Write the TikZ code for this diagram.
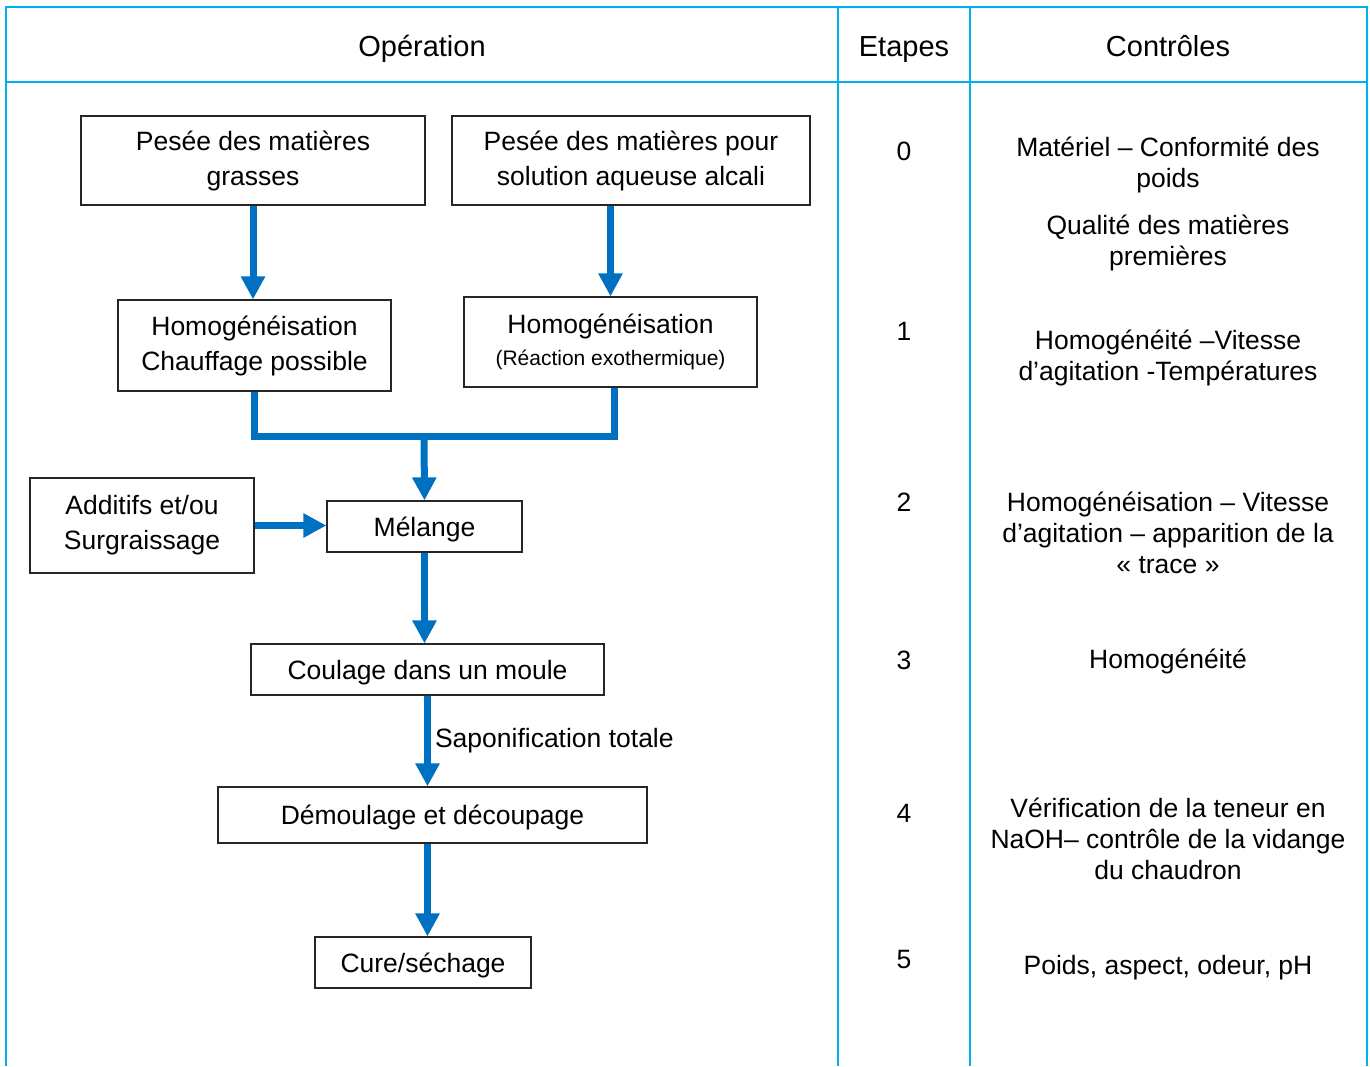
\documentclass[tikz,border=0pt]{standalone}
\usepackage{fontspec}
\setmainfont{Liberation Sans}
\usepackage{xcolor}
\usetikzlibrary{arrows.meta}

\definecolor{bleuFleche}{HTML}{0070C0}
\definecolor{bleuTableau}{HTML}{00B0F0}

\begin{document}
\begin{tikzpicture}[x=1pt, y=-1pt,
  boite/.style={draw=black!85, line width=1.2pt, inner sep=0pt, align=center,
    font=\fontsize{26.5}{35}\selectfont},
  ligne/.style={text height=19pt, text depth=0pt},
  tuyau/.style={draw=bleuFleche, line width=7pt},
  fleche/.style={tuyau, -{Triangle[length=23pt, width=23pt]}},
  texte/.style={align=center, inner sep=0pt, font=\fontsize{26.5}{31}\selectfont},
  titre/.style={inner sep=0pt, anchor=base, font=\fontsize{29}{34}\selectfont}]
  \useasboundingbox (0,0) rectangle (1370,1066);

  % Tableau : cadre, ligne d'en-tete et colonnes
  \draw[bleuTableau, line width=2.5pt] (6,1066) -- (6,7) -- (1367,7) -- (1367,1066);
  \draw[bleuTableau, line width=2.5pt] (6,82) -- (1367,82);
  \draw[bleuTableau, line width=2.5pt] (838,7) -- (838,1066);
  \draw[bleuTableau, line width=2.5pt] (970,7) -- (970,1066);

  \node[titre] (tOp) at (422,56.5) {Opération};
  \node[titre] (tEt) at (904,56.5) {Etapes};
  \node[titre] (tCo) at (1168,56.5) {Contrôles};

  % Diagramme de fabrication
  \node[boite, minimum width=344pt, minimum height=89pt] (pg) at (253,160.5)
    {Pesée des matières\\grasses};
  \node[boite, minimum width=358pt, minimum height=89pt] (pa) at (631,160.5)
    {Pesée des matières pour\\solution aqueuse alcali};
  \node[boite, minimum width=273pt, minimum height=91pt] (hg) at (254.5,345.5)
    {Homogénéisation\\Chauffage possible};
  \node[boite, minimum width=293pt, minimum height=90pt] (ha) at (610.5,342)
    {Homogénéisation\\[-3pt]{\fontsize{21}{25}\selectfont(Réaction exothermique)}};
  \node[boite, minimum width=224pt, minimum height=95pt] (add) at (142,525.5)
    {Additifs et/ou\\Surgraissage};
  \node[boite, ligne, minimum width=195pt, minimum height=51pt] (mel) at (424.5,526.5) {Mélange};
  \node[boite, ligne, minimum width=353pt, minimum height=51pt] (cou) at (427.5,669.5)
    {Coulage dans un moule};
  \node[boite, ligne, minimum width=429pt, minimum height=56pt] (dem) at (432.5,815)
    {Démoulage et découpage};
  \node[boite, ligne, minimum width=216pt, minimum height=51pt] (cure) at (423,962.5)
    {Cure/séchage};

  \coordinate (jonction) at (424,436);

  \draw[fleche] (pg.south) -- (pg.south |- hg.north);
  \draw[fleche] (pa.south -| ha.north) -- (ha.north);
  \draw[tuyau] (hg.south) |- (jonction) -| ([xshift=3.5pt]ha.south);
  \draw[fleche] (jonction) -- (mel.north);
  \draw[fleche] (add.east) -- (add.east -| mel.west);
  \draw[fleche] (mel.south) -- (mel.south |- cou.north);
  \draw[fleche] (cou.south) -- node[right, xshift=4pt, texte] (sap) {Saponification totale}
    (cou.south |- dem.north);
  \draw[fleche] (cou.south |- dem.south) -- (cou.south |- cure.north);

  % Etapes
  \node[texte] (e0) at (904,151) {0};
  \node[texte] (e1) at (904,331) {1};
  \node[texte] (e2) at (904,502) {2};
  \node[texte] (e3) at (904,660) {3};
  \node[texte] (e4) at (904,813) {4};
  \node[texte] (e5) at (904,959) {5};

  % Controles
  \node[texte] (c0a) at (1168,164.5) {Matériel – Conformité des\\poids};
  \node[texte] (c0b) at (1168,242.5) {Qualité des matières\\premières};
  \node[texte] (c1) at (1168,357.5) {Homogénéité –Vitesse\\d’agitation -Températures};
  \node[texte] (c2) at (1168,533) {Homogénéisation – Vitesse\\d’agitation – apparition de la\\« trace »};
  \node[texte, ligne] (c3) at (1168,659) {Homogénéité};
  \node[texte] (c4) at (1168,839) {Vérification de la teneur en\\NaOH– contrôle de la vidange\\du chaudron};
  \node[texte, ligne] (c5) at (1168,965) {Poids, aspect, odeur, pH};
\end{tikzpicture}
\end{document}
